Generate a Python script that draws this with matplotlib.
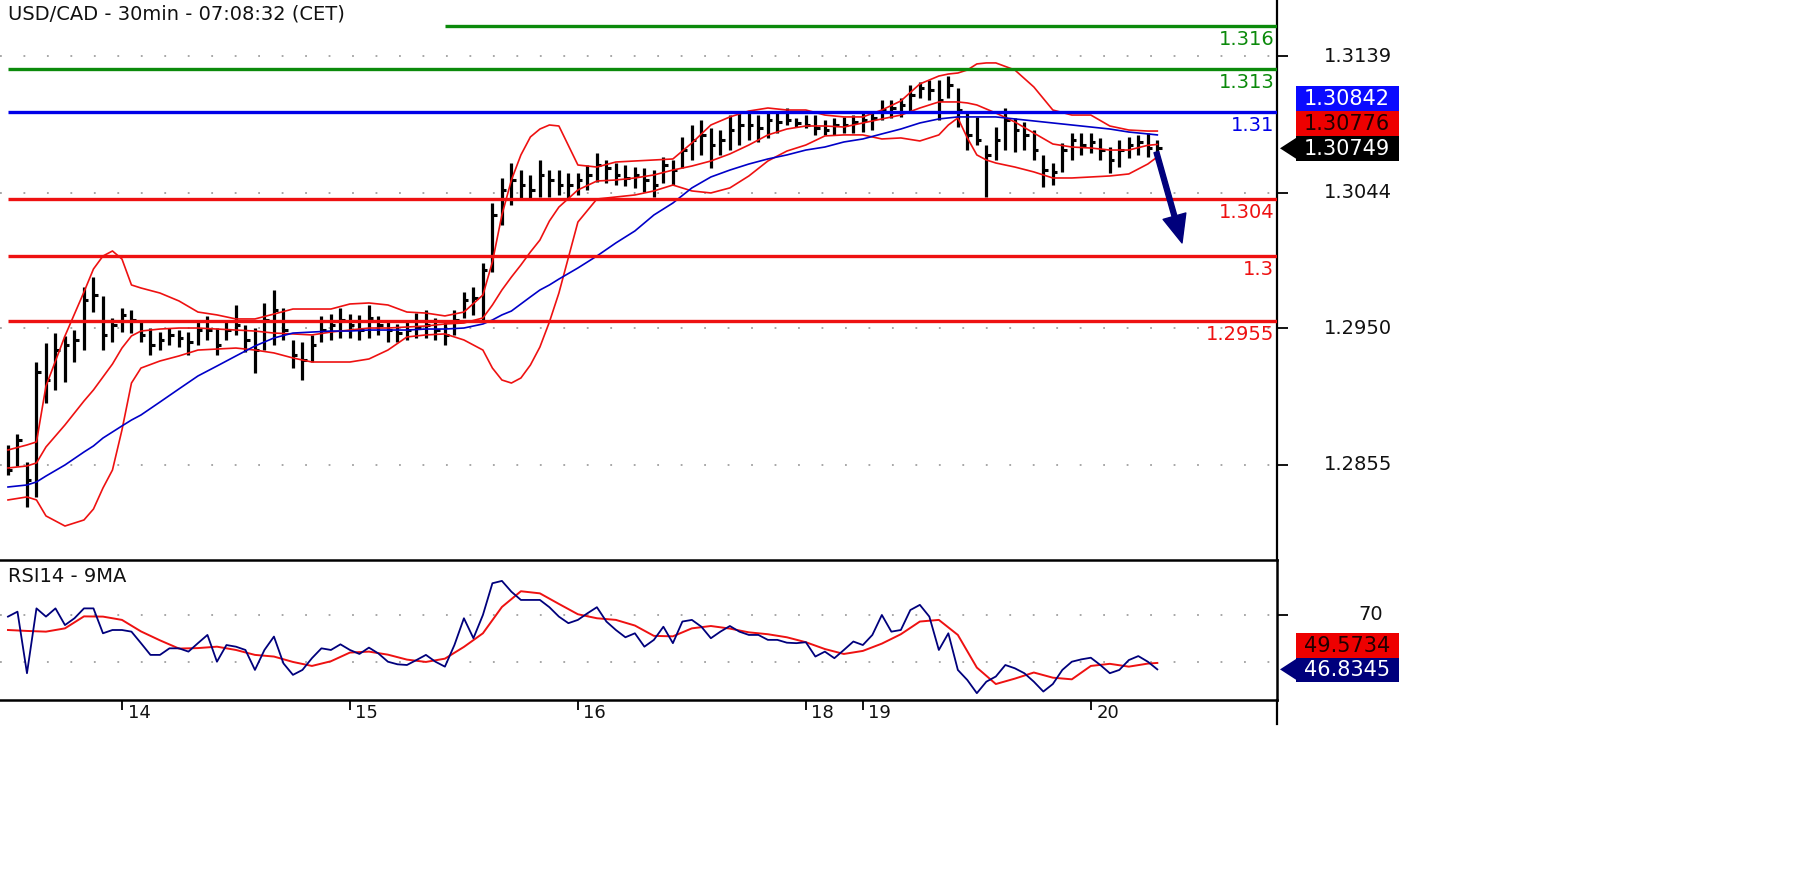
import numpy as np
import matplotlib
matplotlib.use("Agg")
import matplotlib.pyplot as plt
from matplotlib.patches import Rectangle, Polygon

# USD/CAD, hourly bars (13th noon -> 20th morning)
bar_high = [1.28689, 1.28765, 1.28571, 1.29265, 1.29397, 1.29466, 1.29446, 1.29487, 1.29786, 1.29855,
            1.29723, 1.29571, 1.29640, 1.29626, 1.29543, 1.29501, 1.29473, 1.29501, 1.29487, 1.29473,
            1.29543, 1.29585, 1.29501, 1.29543, 1.29661, 1.29522, 1.29501, 1.29675, 1.29765, 1.29640,
            1.29418, 1.29404, 1.29453, 1.29585, 1.29598, 1.29640, 1.29598, 1.29592, 1.29661, 1.29585,
            1.29543, 1.29529, 1.29543, 1.29605, 1.29626, 1.29571, 1.29543, 1.29626, 1.29751, 1.29786,
            1.29953, 1.30369, 1.30543, 1.30647, 1.30598, 1.30564, 1.30668, 1.30598, 1.30598, 1.30578,
            1.30578, 1.30633, 1.30717, 1.30668, 1.30647, 1.30633, 1.30619, 1.30612, 1.30598, 1.30689,
            1.30668, 1.30828, 1.30911, 1.30946, 1.30890, 1.30876, 1.30980, 1.30994, 1.31001, 1.30980,
            1.30994, 1.31001, 1.31029, 1.30960, 1.30980, 1.30980, 1.30946, 1.30960, 1.30967, 1.30980,
            1.30994, 1.31001, 1.31085, 1.31085, 1.31098, 1.31189, 1.31210, 1.31223, 1.31223, 1.31251,
            1.31168, 1.30994, 1.30967, 1.30772, 1.30897, 1.31029, 1.30960, 1.30932, 1.30876, 1.30703,
            1.30647, 1.30786, 1.30855, 1.30855, 1.30855, 1.30821, 1.30758, 1.30807, 1.30828, 1.30842,
            1.30855, 1.30807]
bar_low = [1.28480, 1.28543, 1.28258, 1.28328, 1.28980, 1.29071, 1.29126, 1.29265, 1.29348, 1.29612,
           1.29348, 1.29404, 1.29473, 1.29466, 1.29404, 1.29314, 1.29348, 1.29383, 1.29369, 1.29314,
           1.29383, 1.29418, 1.29314, 1.29418, 1.29453, 1.29335, 1.29189, 1.29348, 1.29383, 1.29418,
           1.29223, 1.29140, 1.29265, 1.29404, 1.29418, 1.29432, 1.29432, 1.29418, 1.29432, 1.29453,
           1.29404, 1.29404, 1.29418, 1.29432, 1.29432, 1.29418, 1.29383, 1.29453, 1.29571, 1.29592,
           1.29557, 1.29890, 1.30217, 1.30355, 1.30390, 1.30390, 1.30411, 1.30411, 1.30425, 1.30404,
           1.30425, 1.30460, 1.30515, 1.30508, 1.30494, 1.30488, 1.30474, 1.30446, 1.30411, 1.30508,
           1.30494, 1.30612, 1.30668, 1.30703, 1.30612, 1.30703, 1.30737, 1.30772, 1.30807, 1.30793,
           1.30821, 1.30855, 1.30911, 1.30897, 1.30890, 1.30842, 1.30842, 1.30842, 1.30855, 1.30855,
           1.30862, 1.30876, 1.30946, 1.30960, 1.30967, 1.31001, 1.31098, 1.31085, 1.30946, 1.31098,
           1.30897, 1.30737, 1.30772, 1.30411, 1.30668, 1.30737, 1.30723, 1.30737, 1.30668, 1.30481,
           1.30494, 1.30585, 1.30668, 1.30703, 1.30717, 1.30668, 1.30578, 1.30619, 1.30682, 1.30703,
           1.30689, 1.30668]
bar_close = [1.28515, 1.28723, 1.28446, 1.29196, 1.29140, 1.29348, 1.29383, 1.29418, 1.29696, 1.29730,
             1.29453, 1.29522, 1.29592, 1.29557, 1.29453, 1.29383, 1.29418, 1.29453, 1.29432, 1.29404,
             1.29487, 1.29487, 1.29383, 1.29487, 1.29522, 1.29418, 1.29348, 1.29557, 1.29626, 1.29487,
             1.29314, 1.29279, 1.29383, 1.29487, 1.29522, 1.29557, 1.29522, 1.29487, 1.29571, 1.29522,
             1.29487, 1.29466, 1.29487, 1.29501, 1.29522, 1.29487, 1.29453, 1.29557, 1.29696, 1.29710,
             1.29904, 1.30286, 1.30460, 1.30529, 1.30494, 1.30460, 1.30564, 1.30529, 1.30494, 1.30494,
             1.30529, 1.30564, 1.30633, 1.30612, 1.30564, 1.30543, 1.30564, 1.30529, 1.30494, 1.30633,
             1.30598, 1.30737, 1.30807, 1.30842, 1.30772, 1.30807, 1.30876, 1.30911, 1.30911, 1.30890,
             1.30946, 1.30932, 1.30946, 1.30925, 1.30911, 1.30890, 1.30876, 1.30911, 1.30911, 1.30932,
             1.30946, 1.30960, 1.31015, 1.31029, 1.31050, 1.31119, 1.31168, 1.31154, 1.31085, 1.31189,
             1.31015, 1.30842, 1.30807, 1.30703, 1.30807, 1.30946, 1.30876, 1.30842, 1.30737, 1.30598,
             1.30585, 1.30737, 1.30807, 1.30772, 1.30793, 1.30737, 1.30668, 1.30737, 1.30772, 1.30793,
             1.30751, 1.30749]

# bollinger bands + blue moving average, read at these bars
band_idx = [0, 2, 3, 4, 6, 8, 9, 10, 11, 12, 13, 14, 16, 18, 20, 22, 24, 26, 28, 30, 32, 34, 36, 38,
            40, 42, 44, 46, 48, 50, 51, 52, 53, 54, 55, 56, 57, 58, 60, 62, 64, 66, 68, 70, 72, 74, 76,
            78, 80, 82, 84, 86, 88, 90, 92, 94, 96, 98, 99, 100, 101, 102, 103, 104, 106, 108, 110, 112,
            114, 116, 118, 120, 121]
bb_upper = [1.28654, 1.28689, 1.28710, 1.29098, 1.29446, 1.29751, 1.29911, 1.30001, 1.30036, 1.29980,
            1.29800, 1.29779, 1.29744, 1.29689, 1.29612, 1.29592, 1.29564, 1.29564, 1.29598, 1.29633,
            1.29633, 1.29633, 1.29668, 1.29675, 1.29661, 1.29612, 1.29605, 1.29585, 1.29612, 1.29730,
            1.29960, 1.30286, 1.30529, 1.30703, 1.30828, 1.30883, 1.30911, 1.30904, 1.30633, 1.30619,
            1.30654, 1.30661, 1.30668, 1.30675, 1.30786, 1.30911, 1.30967, 1.31008, 1.31029, 1.31015,
            1.31015, 1.30980, 1.30967, 1.30967, 1.31015, 1.31078, 1.31196, 1.31251, 1.31265, 1.31272,
            1.31293, 1.31335, 1.31342, 1.31342, 1.31293, 1.31175, 1.31015, 1.30980, 1.30980, 1.30904,
            1.30876, 1.30869, 1.30869]
bb_mid = [1.28529, 1.28543, 1.28564, 1.28675, 1.28828, 1.28994, 1.29071, 1.29161, 1.29251, 1.29362,
          1.29446, 1.29480, 1.29494, 1.29501, 1.29501, 1.29494, 1.29487, 1.29480, 1.29466, 1.29460,
          1.29453, 1.29473, 1.29487, 1.29501, 1.29501, 1.29508, 1.29515, 1.29529, 1.29536, 1.29571,
          1.29661, 1.29765, 1.29855, 1.29939, 1.30029, 1.30112, 1.30244, 1.30341, 1.30460, 1.30522,
          1.30529, 1.30543, 1.30564, 1.30598, 1.30626, 1.30661, 1.30710, 1.30772, 1.30842, 1.30883,
          1.30904, 1.30904, 1.30897, 1.30925, 1.30953, 1.30980, 1.31029, 1.31071, 1.31071, 1.31071,
          1.31064, 1.31050, 1.31022, 1.30994, 1.30932, 1.30855, 1.30779, 1.30758, 1.30751, 1.30737,
          1.30737, 1.30770, 1.30776]
bb_lower = [1.28307, 1.28328, 1.28307, 1.28196, 1.28126, 1.28168, 1.28244, 1.28390, 1.28515, 1.28793,
            1.29119, 1.29223, 1.29272, 1.29307, 1.29348, 1.29355, 1.29362, 1.29348, 1.29328, 1.29293,
            1.29265, 1.29265, 1.29265, 1.29286, 1.29348, 1.29439, 1.29453, 1.29460, 1.29418, 1.29348,
            1.29223, 1.29140, 1.29119, 1.29154, 1.29244, 1.29369, 1.29543, 1.29744, 1.30237, 1.30397,
            1.30411, 1.30425, 1.30453, 1.30494, 1.30453, 1.30439, 1.30474, 1.30557, 1.30661, 1.30730,
            1.30772, 1.30835, 1.30842, 1.30842, 1.30814, 1.30821, 1.30800, 1.30842, 1.30911, 1.30960,
            1.30821, 1.30703, 1.30668, 1.30647, 1.30619, 1.30585, 1.30543, 1.30543, 1.30550, 1.30557,
            1.30571, 1.30640, 1.30689]
ma_blue = [1.28397, 1.28411, 1.28432, 1.28473, 1.28550, 1.28640, 1.28682, 1.28737, 1.28779, 1.28821,
           1.28862, 1.28897, 1.28987, 1.29078, 1.29168, 1.29237, 1.29307, 1.29376, 1.29432, 1.29466,
           1.29473, 1.29480, 1.29480, 1.29487, 1.29487, 1.29487, 1.29494, 1.29494, 1.29501, 1.29529,
           1.29557, 1.29592, 1.29619, 1.29668, 1.29717, 1.29765, 1.29800, 1.29841, 1.29918, 1.30001,
           1.30092, 1.30175, 1.30286, 1.30369, 1.30474, 1.30550, 1.30598, 1.30640, 1.30675, 1.30703,
           1.30737, 1.30758, 1.30793, 1.30814, 1.30849, 1.30883, 1.30925, 1.30953, 1.30960, 1.30967,
           1.30967, 1.30967, 1.30967, 1.30967, 1.30953, 1.30939, 1.30925, 1.30911, 1.30897, 1.30883,
           1.30862, 1.30849, 1.30842]

# RSI(14) per bar and its 9 period average
rsi = [69.3, 71.4, 45.2, 72.8, 69.3, 72.8, 65.7, 68.6, 72.8, 72.8, 62.2, 63.6, 63.6, 62.9, 58.0,
       53.0, 53.0, 55.8, 55.8, 54.4, 58.0, 61.5, 50.1, 57.2, 56.5, 55.1, 46.6, 55.1, 60.8, 49.4,
       44.5, 46.6, 51.6, 55.8, 55.1, 57.5, 55.1, 53.4, 56.1, 53.6, 50.1, 49.0, 48.7, 50.8, 53.0,
       50.1, 48.0, 57.2, 68.6, 60.1, 70.0, 83.5, 84.5, 79.9, 76.4, 76.4, 76.4, 73.3, 69.3, 66.5,
       67.9, 70.7, 73.3, 67.2, 63.6, 60.5, 62.2, 56.5, 59.4, 65.0, 58.0, 67.2, 67.9, 65.0, 60.1,
       62.9, 65.3, 62.9, 61.5, 61.5, 59.4, 59.4, 58.2, 58.0, 58.4, 52.3, 54.4, 51.6, 55.1, 58.7,
       57.2, 61.5, 70.0, 62.9, 63.6, 72.1, 74.3, 69.3, 55.1, 62.2, 46.6, 42.3, 36.7, 41.6, 43.8,
       48.7, 47.3, 45.2, 41.6, 37.4, 40.6, 46.6, 50.1, 51.1, 51.8, 48.7, 45.2, 46.6, 50.8, 52.5,
       50.1, 46.8345]
rsi_ma_idx = list(range(0, 121, 2)) + [121]
rsi_ma = [63.6, 63.2, 62.9, 64.3, 69.4, 69.3, 67.9, 63.0, 59.2, 55.7, 55.9, 56.5, 55.1, 53.0, 52.3,
          50.0, 48.3, 50.3, 54.0, 54.4, 53.1, 51.0, 50.0, 51.4, 56.4, 62.2, 73.4, 80.1, 79.2, 74.7,
          70.3, 68.6, 67.9, 65.5, 61.1, 60.9, 64.3, 65.3, 64.2, 62.6, 61.8, 60.5, 58.4, 55.5, 53.4,
          54.7, 57.8, 61.8, 67.2, 67.9, 61.5, 47.6, 40.6, 42.9, 45.5, 43.3, 42.6, 48.3, 49.2, 48.0,
          49.3, 49.5734]

levels = [1.316, 1.313, 1.31, 1.304, 1.3, 1.2955]
level_labels = ['1.316', '1.313', '1.31', '1.304', '1.3', '1.2955']
level_start = [46, 0, 0, 0, 0, 0]
price_ticks = [1.3139, 1.3044, 1.2950, 1.2855]
rsi_ticks = [70]
rsi_grid = [70, 50]
day_pos = [12, 36, 60, 84, 90, 114]
day_labels = ['14', '15', '16', '18', '19', '20']
arrow_from = (120.9, 1.30723)
arrow_to = (123.6, 1.30092)

GREEN = '#0b8a0b'
BLUE = '#0000e8'
RED = '#ee1111'
NAVY = '#00007c'
level_colors = [GREEN, GREEN, BLUE, RED, RED, RED]

W, H = 1800, 874
fig = plt.figure(figsize=(W / 100, H / 100), dpi=100)
fig.patch.set_facecolor('white')

ax = fig.add_axes([0, 1 - 560 / H, 1277 / W, 560 / H])
ax2 = fig.add_axes([0, 1 - 700 / H, 1277 / W, 140 / H])
XL = (-0.84, 133.6)

# ---- price panel
ax.set_xlim(*XL)
ax.set_ylim(1.2789, 1.31779)
x = np.arange(len(bar_close))
ax.hlines(price_ticks, XL[0], XL[1], colors='#a0a0a0', linestyles=(0, (1, 12)), lw=1.3, zorder=1)
ax.vlines(x, bar_low, bar_high, color='black', lw=2.3, zorder=2)
ax.hlines(bar_close, x, x + 0.45, color='black', lw=2.2, zorder=2)
ax.plot(band_idx, bb_upper, color=RED, lw=1.2, zorder=3)
ax.plot(band_idx, bb_mid, color=RED, lw=1.2, zorder=3)
ax.plot(band_idx, bb_lower, color=RED, lw=1.2, zorder=3)
ax.plot(band_idx, ma_blue, color='#0000c8', lw=1.2, zorder=3)

for lev, lab, c, st in zip(levels, level_labels, level_colors, level_start):
    ax.hlines(lev, st, XL[1], colors=c, lw=2.4, zorder=4)
    ax.annotate(lab, xy=(1, lev), xycoords=('axes fraction', 'data'), xytext=(-2, -3),
                textcoords='offset points', ha='right', va='top', color=c, fontsize=14)

ax.annotate('', xy=arrow_to, xytext=arrow_from,
            arrowprops=dict(color=NAVY, width=3.5, headwidth=17, headlength=20, shrink=0), zorder=5)

for s in ['top', 'left', 'bottom']:
    ax.spines[s].set_visible(False)
ax.spines['right'].set_linewidth(1.6)
ax.set_xticks([])
ax.set_yticks(price_ticks)
ax.tick_params(axis='y', left=False, right=True, labelleft=False, labelright=False,
               direction='out', length=8, width=1.3)
for t in price_ticks:
    ax.annotate(f'{t:.4f}', xy=(1, t), xycoords=('axes fraction', 'data'), xytext=(83, 0),
                textcoords='offset points', ha='right', va='center', fontsize=14, color='#111111')

fig.text(8 / W, 1 - 4 / H, 'USD/CAD - 30min - 07:08:32 (CET)', ha='left', va='top',
         fontsize=14, color='#111111')

# ---- RSI panel
ax2.set_xlim(*XL)
ax2.set_ylim(33.8, 93.4)
ax2.hlines(rsi_grid, XL[0], XL[1], colors='#a0a0a0', linestyles=(0, (1, 12)), lw=1.3, zorder=1)
ax2.plot(np.arange(len(rsi)), rsi, color=NAVY, lw=1.3, zorder=3)
ax2.plot(rsi_ma_idx, rsi_ma, color=RED, lw=1.4, zorder=2)
ax2.spines['left'].set_visible(False)
for s in ['top', 'bottom', 'right']:
    ax2.spines[s].set_linewidth(1.8)
ax2.set_yticks(rsi_ticks)
ax2.tick_params(axis='y', left=False, right=True, labelleft=False, labelright=False,
                direction='out', length=8, width=1.3)
ax2.annotate('70', xy=(1, 70), xycoords=('axes fraction', 'data'), xytext=(76, 0),
             textcoords='offset points', ha='right', va='center', fontsize=14, color='#111111')
ax2.set_xticks(day_pos)
ax2.tick_params(axis='x', direction='out', length=7, width=1.3, labelbottom=False)
for p, lab in zip(day_pos, day_labels):
    ax2.annotate(lab, xy=(p, 0), xycoords=('data', 'axes fraction'), xytext=(4, -3),
                 textcoords='offset points', ha='left', va='top', fontsize=13, color='#111111')
ax2.text(8 / 1277, 0.95, 'RSI14 - 9MA', transform=ax2.transAxes, ha='left', va='top',
         fontsize=14, color='#111111')

# ---- value tags at the right, in pixel space
ov = fig.add_axes([0, 0, 1, 1], zorder=10)
ov.set_xlim(0, W)
ov.set_ylim(H, 0)
ov.axis('off')
ov.patch.set_alpha(0)
ov.plot([1277, 1277], [700, 724], color='black', lw=1.6)


def to_px(a, v):
    return H - a.transData.transform((0, v))[1]


def tag(yc, text, face, fg, pointer=False):
    ov.add_patch(Rectangle((1296, yc - 12.5), 103, 25, facecolor=face, edgecolor='none'))
    if pointer:
        ov.add_patch(Polygon([[1280, yc], [1297, yc - 11], [1297, yc + 11]], closed=True,
                             facecolor=face, edgecolor='none'))
    ov.text(1347, yc + 1, text, color=fg, ha='center', va='center', fontsize=15)


yb = to_px(ax, bar_close[-1])
tag(yb, f'{bar_close[-1]:.5f}', 'black', 'white', pointer=True)
tag(yb - 25, f'{bb_mid[-1]:.5f}', '#ee0000', '#200000')
tag(yb - 50, f'{ma_blue[-1]:.5f}', '#0a0aff', 'white')

yr = to_px(ax2, rsi[-1])
tag(yr, f'{rsi[-1]:.4f}', NAVY, 'white', pointer=True)
tag(yr - 24, f'{rsi_ma[-1]:.4f}', '#ee0000', '#200000')

fig.savefig('out.png', dpi=100, facecolor='white')
